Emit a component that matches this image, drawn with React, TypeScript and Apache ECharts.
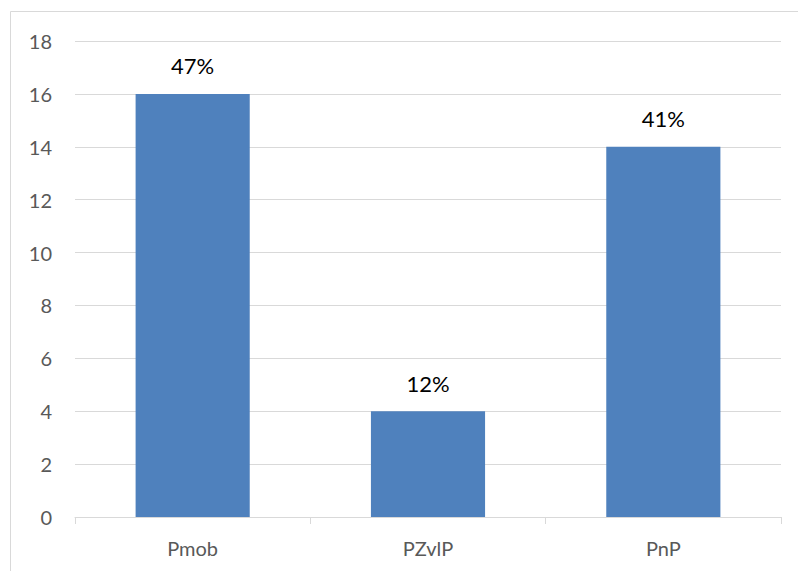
import React, { useEffect, useRef } from "react";
import * as echarts from "echarts";

const categories = ["Pmob", "PZvlP", "PnP"];
const values = [16, 4, 14];
const percentLabels = ["47%", "12%", "41%"];
const yTicks = { min: 0, max: 18, interval: 2 };

export default function App() {
  const ref = useRef<HTMLDivElement>(null);
  useEffect(() => {
    if (!ref.current) return;
    const chart = echarts.init(ref.current, null, { renderer: "svg" });
    const font = "Lato, 'Open Sans', sans-serif";
    chart.setOption({
      animation: false,
      backgroundColor: "#ffffff",
      textStyle: { fontFamily: font },
      graphic: [
        {
          type: "rect",
          shape: { x: 10.5, y: 11.5, width: 900, height: 700 },
          style: { fill: "none", stroke: "#d9d9d9", lineWidth: 1 },
          silent: true,
        },
      ],
      grid: { left: 75, right: 17, top: 41, bottom: 54, containLabel: false },
      xAxis: {
        type: "category",
        data: categories,
        axisLine: { lineStyle: { color: "#d9d9d9", width: 1 } },
        axisTick: { show: true, length: 7, lineStyle: { color: "#d9d9d9" }, alignWithLabel: false },
        axisLabel: { color: "#595959", fontSize: 20, margin: 21, fontFamily: font },
        splitLine: { show: false },
      },
      yAxis: {
        type: "value",
        min: yTicks.min,
        max: yTicks.max,
        interval: yTicks.interval,
        axisLine: { show: false },
        axisTick: { show: false },
        axisLabel: { color: "#595959", fontSize: 20, margin: 23, fontFamily: font },
        splitLine: { lineStyle: { color: "#d9d9d9", width: 1 } },
      },
      series: [
        {
          type: "bar",
          data: values,
          barWidth: "48.5%",
          itemStyle: { color: "#4f81bd" },
          label: {
            show: true,
            position: "top",
            distance: 17,
            color: "#000000",
            fontSize: 22,
            fontFamily: font,
            formatter: (p: any) => percentLabels[p.dataIndex],
          },
        },
      ],
    });
    return () => chart.dispose();
  }, []);
  return (
    <div
      ref={ref}
      style={{ position: "absolute", left: 0, top: 0, width: 798, height: 571 }}
    />
  );
}
